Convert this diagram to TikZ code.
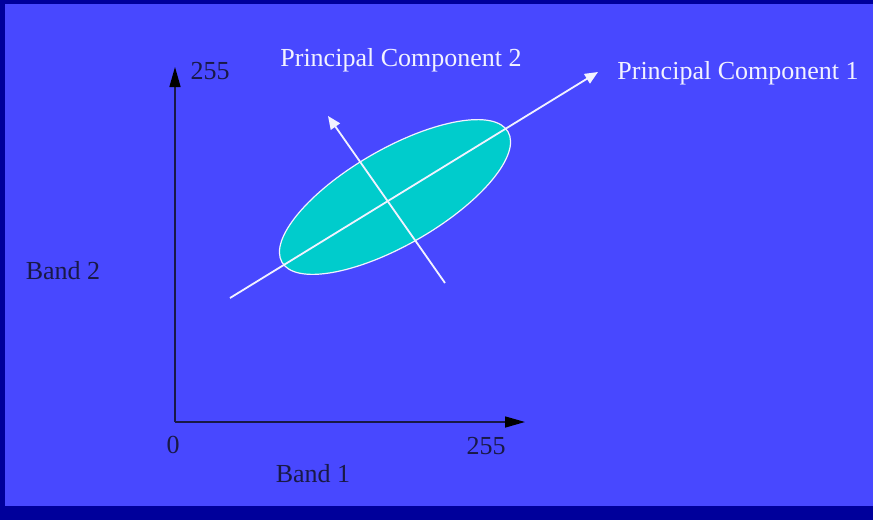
\documentclass[tikz,border=0pt]{standalone}
\usepackage{fontspec}
\setmainfont{Liberation Serif}
\usetikzlibrary{arrows.meta,shapes.geometric}
\definecolor{bgblue}{RGB}{72,72,255}
\definecolor{darkband}{RGB}{0,0,155}
\definecolor{axiscol}{RGB}{25,25,70}
\definecolor{tealfill}{RGB}{0,204,204}
\definecolor{pctext}{RGB}{242,242,255}
\tikzset{
  axisline/.style={draw=axiscol, line width=1.5pt, -{Triangle[length=20pt,width=11pt,fill=black,color=black]}, shorten >=-1pt},
  pcline/.style={draw=pctext, line width=1.8pt},
  pcarrow/.style={pcline, -{Triangle[length=13pt,width=11pt]}},
  darklabel/.style={text=axiscol, font=\fontsize{26}{30}\selectfont, inner sep=0pt},
  pclabel/.style={text=pctext, font=\fontsize{26}{30}\selectfont, inner sep=0pt},
  cloud/.style={ellipse, fill=tealfill, draw=pctext, line width=1.2pt, inner sep=0pt,
    minimum width=261pt, minimum height=96pt, rotate=30}
}
\begin{document}
\begin{tikzpicture}[x=1pt,y=-1pt]
\useasboundingbox (0,0) rectangle (873,520);
\fill[bgblue] (0,0) rectangle (873,520);
\fill[darkband] (0,0) rectangle (873,4);
\fill[darkband] (0,0) rectangle (5,520);
\fill[darkband] (0,506) rectangle (873,520);

% data cloud
\node[cloud] (cloud) at (395,197) {};

% axes
\coordinate (origin) at (175,422);
\coordinate (ytip) at (175,68);
\coordinate (xtip) at (524,422);
\draw[axisline] (origin) -- (ytip);
\draw[axisline] (origin) -- (xtip);

% principal components
\coordinate (pcAstart) at (230,298);
\coordinate (pcAend) at (598,72);
\coordinate (pcBstart) at (445,283);
\coordinate (pcBend) at (328,116);
\draw[pcarrow] (pcAstart) -- (pcAend);
\draw[pcarrow] (pcBstart) -- (pcBend);

% labels
\node[darklabel] (ymax) at (210,71) {255};
\node[darklabel] (zero) at (173,445) {0};
\node[darklabel] (xmax) at (486,446) {255};
\node[darklabel] (band1) at (313,474) {Band 1};
\node[darklabel] (band2) at (63,271) {Band 2};
\node[pclabel] (pc2) at (401,60) {Principal Component 2};
\node[pclabel] (pc1) at (738,73) {Principal Component 1};
\end{tikzpicture}
\end{document}
